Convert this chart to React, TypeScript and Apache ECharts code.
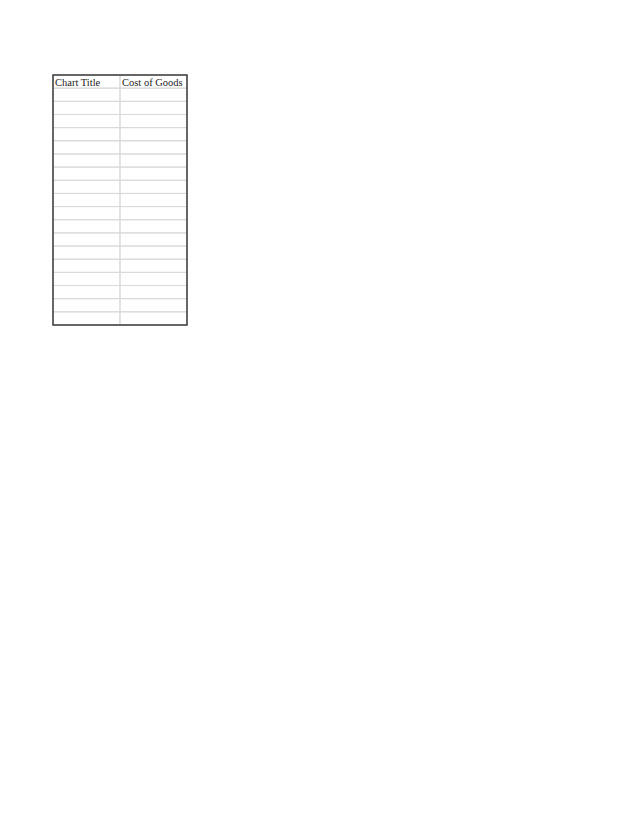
import React, { useEffect, useRef } from "react";
import * as echarts from "echarts";

// Table content (body cells are empty)
const headers: string[] = ["Chart Title", "Cost of Goods"];
const chartTitleColumn: string[] = ["", "", "", "", "", "", "", "", "", "", "", "", "", "", "", "", "", ""];
const costOfGoodsColumn: string[] = ["", "", "", "", "", "", "", "", "", "", "", "", "", "", "", "", "", ""];

export default function App() {
  const ref = useRef<HTMLDivElement>(null);

  useEffect(() => {
    if (!ref.current) return;
    const chart = echarts.init(ref.current, null, { renderer: "svg" });

    const columns = [chartTitleColumn, costOfGoodsColumn];
    const nRows = chartTitleColumn.length + 1;
    const nCols = headers.length;

    const cells: any[] = [];
    headers.forEach((h, c) => cells.push([c, 0, h]));
    columns.forEach((col, c) => col.forEach((v, r) => cells.push([c, r + 1, v])));

    const option: any = {
      animation: false,
      backgroundColor: "#ffffff",
      grid: { left: 53, top: 75, width: 134, height: 250, show: false },
      xAxis: { type: "value", min: 0, max: nCols, show: false },
      yAxis: { type: "value", min: 0, max: nRows, inverse: true, show: false },
      series: [
        {
          type: "custom",
          coordinateSystem: "cartesian2d",
          data: cells,
          z: 2,
          renderItem: (params: any, api: any) => {
            const c = api.value(0);
            const r = api.value(1);
            const text = cells[params.dataIndex][2];
            const p0 = api.coord([c, r]);
            const p1 = api.coord([c + 1, r + 1]);
            return {
              type: "group",
              children: [
                {
                  type: "rect",
                  shape: { x: p0[0], y: p0[1], width: p1[0] - p0[0], height: p1[1] - p0[1] },
                  style: { fill: "none", stroke: "#d9d9d9", lineWidth: 1 },
                },
                {
                  type: "text",
                  x: p0[0] + 2,
                  y: (p0[1] + p1[1]) / 2 + 0.5,
                  style: {
                    text: text,
                    fontFamily: "'Liberation Serif', 'Times New Roman', serif",
                    fontSize: 10.5,
                    fill: "#222222",
                    align: "left",
                    verticalAlign: "middle",
                  },
                },
              ],
            };
          },
        },
        {
          type: "custom",
          coordinateSystem: "cartesian2d",
          data: [[0, 0, nCols, nRows]],
          z: 5,
          renderItem: (_params: any, api: any) => {
            const p0 = api.coord([api.value(0), api.value(1)]);
            const p1 = api.coord([api.value(2), api.value(3)]);
            return {
              type: "rect",
              shape: { x: p0[0], y: p0[1], width: p1[0] - p0[0], height: p1[1] - p0[1] },
              style: { fill: "none", stroke: "#3a3a3a", lineWidth: 1.5 },
            };
          },
        },
      ],
    };

    chart.setOption(option);
    return () => chart.dispose();
  }, []);

  return (
    <div
      ref={ref}
      style={{ position: "absolute", left: 0, top: 0, width: 638, height: 826 }}
    />
  );
}
